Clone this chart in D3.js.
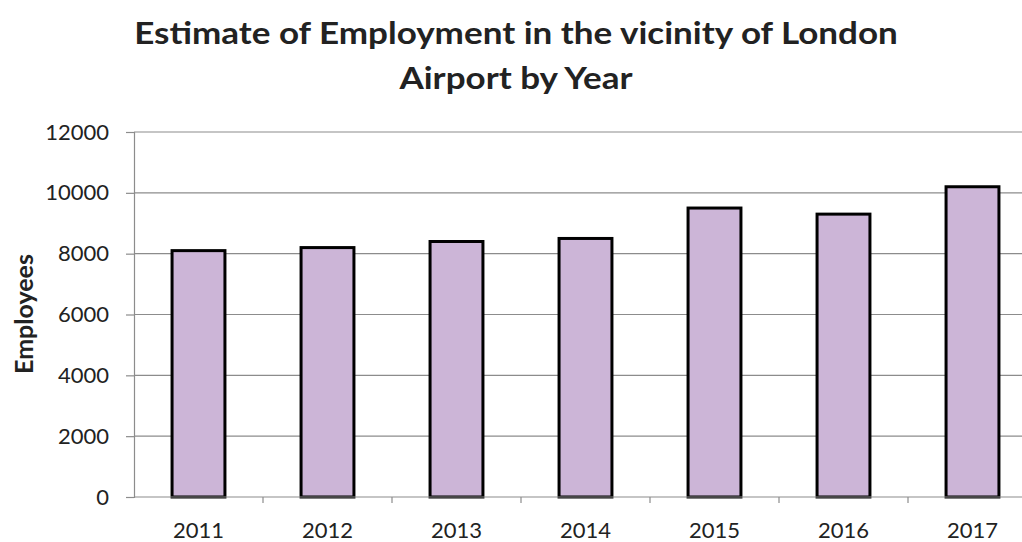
<!DOCTYPE html>
<html>
<head>
<meta charset="utf-8">
<script src="https://cdn.jsdelivr.net/npm/d3@7"></script>
<style>
  html, body { margin: 0; padding: 0; background: #fff; }
  svg { display: block; }
  text { font-family: Lato, "Open Sans", sans-serif; fill: #222; }
</style>
</head>
<body>
<svg id="chart" width="1022" height="542"></svg>
<script>
// Employment estimates around London Airport, one value per year
const years = ["2011", "2012", "2013", "2014", "2015", "2016", "2017"];
const employees = [8100, 8200, 8400, 8500, 9500, 9300, 10200];
const yTicks = [0, 2000, 4000, 6000, 8000, 10000, 12000];
const titleLines = ["Estimate of Employment in the vicinity of London", "Airport by Year"];
const yAxisLabel = "Employees";

const svg = d3.select("#chart");
const margin = { left: 134, right: 1037, top: 132, bottom: 497 };

const x = d3.scaleBand()
  .domain(years)
  .range([margin.left, margin.right])
  .paddingInner(0.59)
  .paddingOuter(0.295);

const y = d3.scaleLinear()
  .domain([0, 12000])
  .range([margin.bottom, margin.top]);

const gridColor = "#8c8c8c";

// horizontal gridlines
svg.append("g")
  .selectAll("line")
  .data(yTicks.filter(d => d > 0))
  .join("line")
  .attr("x1", margin.left)
  .attr("x2", margin.right)
  .attr("y1", d => y(d))
  .attr("y2", d => y(d))
  .attr("stroke", gridColor)
  .attr("stroke-width", 1.2);

// y axis
const yAxis = svg.append("g")
  .attr("transform", `translate(${margin.left},0)`)
  .call(d3.axisLeft(y).tickValues(yTicks).tickFormat(d3.format("d")).tickSize(8).tickPadding(17));
yAxis.select(".domain").attr("stroke", gridColor).attr("stroke-width", 1.2);
yAxis.selectAll(".tick line").attr("stroke", gridColor).attr("stroke-width", 1.2);
yAxis.selectAll(".tick text")
  .attr("font-size", 22)
  .attr("font-family", "Lato, sans-serif")
  .attr("fill", "#222");

// bars
svg.append("g")
  .selectAll("rect")
  .data(years.map((yr, i) => ({ yr, v: employees[i] })))
  .join("rect")
  .attr("x", d => x(d.yr))
  .attr("y", d => y(d.v))
  .attr("width", x.bandwidth())
  .attr("height", d => y(0) - y(d.v))
  .attr("fill", "#ccb5d7")
  .attr("stroke", "#000")
  .attr("stroke-width", 3);

// x axis with ticks between categories
const xAxisG = svg.append("g");
xAxisG.append("line")
  .attr("x1", margin.left).attr("x2", margin.right)
  .attr("y1", y(0)).attr("y2", y(0))
  .attr("stroke", gridColor).attr("stroke-width", 1.2);
const step = x.step();
xAxisG.selectAll("line.sep")
  .data(years)
  .join("line")
  .attr("class", "sep")
  .attr("x1", d => x(d) - x.paddingInner() * step / 2 + step)
  .attr("x2", d => x(d) - x.paddingInner() * step / 2 + step)
  .attr("y1", y(0))
  .attr("y2", y(0) + 6)
  .attr("stroke", gridColor).attr("stroke-width", 1.2);
xAxisG.selectAll("text")
  .data(years)
  .join("text")
  .attr("x", d => x(d) + x.bandwidth() / 2)
  .attr("y", 538)
  .attr("text-anchor", "middle")
  .attr("font-size", 22)
  .text(d => d);

// y axis title
svg.append("text")
  .attr("transform", `translate(33,314) rotate(-90)`)
  .attr("text-anchor", "middle")
  .attr("font-size", 25)
  .attr("font-weight", "bold")
  .text(yAxisLabel);

// chart title, slightly widened
svg.append("g")
  .selectAll("text")
  .data(titleLines)
  .join("text")
  .attr("transform", (d, i) => `translate(516,${44 + i * 44.5}) scale(1.13,1)`)
  .attr("text-anchor", "middle")
  .attr("font-size", 31)
  .attr("font-weight", "bold")
  .text(d => d);
</script>
</body>
</html>
